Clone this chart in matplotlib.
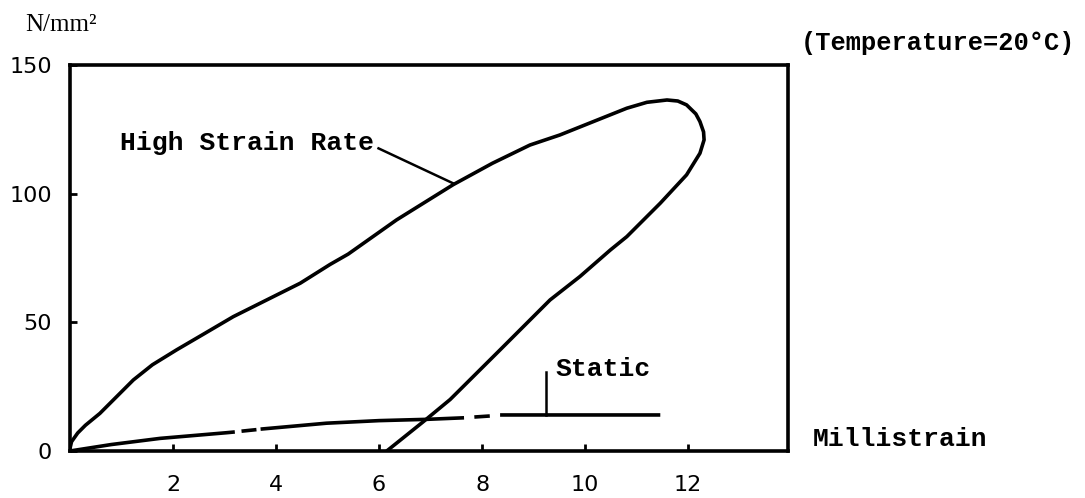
import numpy as np
import matplotlib
matplotlib.use("Agg")
from matplotlib import pyplot as plt

# high strain rate loop (loading up to the nose, then unloading back to the x axis)
high_x = [0.0, 0.03, 0.15, 0.3, 0.58, 0.9, 1.23, 1.6, 2.07, 2.6, 3.17, 3.8, 4.47, 5.05, 5.4,
          6.34, 7.44, 8.2, 8.93, 9.51, 10.16, 10.81, 11.2, 11.59, 11.8, 11.97, 12.15, 12.23,
          12.3, 12.31, 12.23, 11.97, 11.46, 10.81, 10.49, 9.9, 9.32, 8.35, 7.38, 6.86, 6.15]
high_y = [1.0, 3.6, 7.0, 10.0, 14.6, 21.0, 27.6, 33.5, 39.3, 45.5, 52.2, 58.5, 65.2, 72.5, 76.5,
          89.8, 103.5, 111.8, 118.9, 122.8, 128.0, 133.2, 135.5, 136.4, 136.0, 134.5, 131.0, 128.0,
          124.0, 120.9, 115.7, 107.3, 96.3, 83.3, 78.1, 67.8, 58.7, 39.3, 20.0, 11.4, 0.0]

# static curve, nan = the small gaps in the hand drawn line
static_x = [0.0, 0.8, 1.75, 3.04, 3.2, np.nan, 3.33, 3.62, np.nan, 3.7, 4.98, 6.0, 6.93, 7.65,
            np.nan, 7.85, 8.15, np.nan, 8.35, 9.5, 11.46]
static_y = [0.0, 2.5, 4.9, 7.1, 7.4, np.nan, 7.7, 8.3, np.nan, 8.5, 10.8, 11.8, 12.3, 12.9,
            np.nan, 13.2, 13.6, np.nan, 14.0, 14.0, 14.0]

x_ticks = [2, 4, 6, 8, 10, 12]
y_ticks = [0, 50, 100, 150]

mono = "Liberation Mono"

fig = plt.figure(figsize=(10.85, 4.98), dpi=100)
ax = fig.add_axes([0.0645, 0.0944, 0.6618, 0.7751])

ax.plot(high_x, high_y, color="black", lw=2.6, solid_capstyle="round", solid_joinstyle="round")
ax.plot(static_x, static_y, color="black", lw=2.6, solid_capstyle="butt")

ax.set_xlim(0, 13.94)
ax.set_ylim(0, 150)
ax.set_xticks(x_ticks)
ax.set_yticks(y_ticks)
ax.tick_params(direction="in", length=5, width=2, labelsize=16, pad=13)
ax.tick_params(axis="x", pad=17)
for lbl in ax.get_xticklabels() + ax.get_yticklabels():
    lbl.set_fontfamily("DejaVu Sans")
for s in ax.spines.values():
    s.set_linewidth(2.6)

# annotations
ax.text(0.97, 119.8, "High Strain Rate", fontsize=19, family=mono, weight="bold", va="center", ha="left")
ax.plot([5.99, 7.44], [117.6, 104.0], color="black", lw=1.8)
ax.text(9.42, 32, "Static", fontsize=19, family=mono, weight="bold", va="center", ha="left")
ax.plot([9.24, 9.24], [14.0, 30.8], color="black", lw=1.8)

fig.text(813 / 1085, 1 - 439 / 498, "Millistrain", fontsize=19, family=mono, weight="bold",
         va="center", ha="left")
fig.text(801 / 1085, 1 - 43 / 498, "(Temperature=20°C)", fontsize=18.3, family=mono, weight="bold",
         va="center", ha="left")
fig.text(25 / 1085, 1 - 25 / 498, "N/mm²", fontsize=18, family="Liberation Serif",
         va="center", ha="left")

fig.savefig("out.png", dpi=100)
